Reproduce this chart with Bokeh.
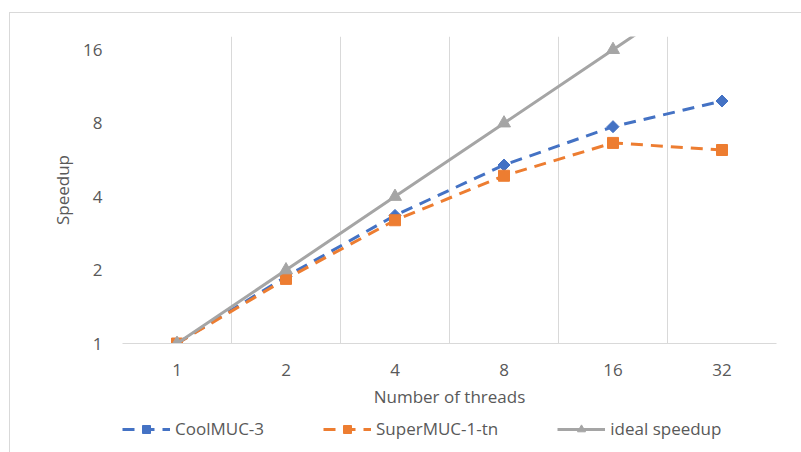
from bokeh.plotting import figure
from bokeh.models import Range1d, FixedTicker, Legend, LegendItem
from bokeh.layouts import column
from bokeh.embed import file_html
from bokeh.resources import INLINE
import math

# ---- data ----
threads = [1, 2, 4, 8, 16, 32]
coolmuc3 = [1.0, 1.88, 3.35, 5.39, 7.74, 9.86]
supermuc = [1.0, 1.84, 3.20, 4.87, 6.64, 6.21]
ideal = [1, 2, 4, 8, 16, 32]
y_ticks = [1, 2, 4, 8, 16]
series_names = ["CoolMUC-3", "SuperMUC-1-tn", "ideal speedup"]

FONT = "Open Sans"
TXT = "#595959"
GRID = "#d9d9d9"
BLUE = "#4472C4"
ORANGE = "#ED7D31"
GRAY = "#A5A5A5"

idx = list(range(len(threads)))
all_series = [coolmuc3, supermuc, ideal]

p = figure(width=792, height=399, output_backend="svg", toolbar_location=None,
           y_axis_type="log",
           x_range=Range1d(-0.5, len(threads) - 0.5),
           y_range=Range1d(1, 2 ** 4.18),
           min_border_left=112, min_border_right=26,
           min_border_top=23, min_border_bottom=69)
p.outline_line_color = None
p.background_fill_color = "white"
p.border_fill_color = "white"

# axes
xa = p.xaxis[0]
xa.ticker = FixedTicker(ticks=idx)
xa.major_label_overrides = {i: str(t) for i, t in zip(idx, threads)}
xa.axis_label = "Number of threads"
xa.axis_line_color = GRID
xa.axis_line_width = 1
xa.major_tick_line_color = None
xa.minor_tick_line_color = None
xa.major_label_standoff = 14
xa.axis_label_standoff = 6

ya = p.yaxis[0]
ya.ticker = FixedTicker(ticks=y_ticks)
ya.major_label_overrides = {t: str(t) for t in y_ticks}
ya.axis_label = "Speedup"
ya.axis_line_color = None
ya.major_tick_line_color = None
ya.minor_tick_line_color = None
ya.major_label_standoff = 14
ya.axis_label_standoff = 6

for ax in (xa, ya):
    ax.major_label_text_font = FONT
    ax.major_label_text_font_size = "17px"
    ax.major_label_text_color = TXT
    ax.axis_label_text_font = FONT
    ax.axis_label_text_font_size = "17px"
    ax.axis_label_text_color = TXT
    ax.axis_label_text_font_style = "normal"

# grid: vertical lines at category boundaries
p.xgrid.ticker = FixedTicker(ticks=[i - 0.5 for i in range(len(threads) + 1)])
p.xgrid.grid_line_color = GRID
p.xgrid.grid_line_width = 1
p.ygrid.visible = False

# series styles
styles = [
    dict(color=BLUE, dash="12 8", marker="square", angle=math.pi / 4, size=8.5),
    dict(color=ORANGE, dash="12 8", marker="square", angle=0.0, size=11),
    dict(color=GRAY, dash="solid", marker="triangle", angle=0.0, size=13),
]

for vals, st in zip(all_series, styles):
    p.line(idx, vals, line_color=st["color"], line_width=3, line_dash=st["dash"])
    p.scatter(idx, vals, marker=st["marker"], angle=st["angle"], size=st["size"],
              fill_color=st["color"], line_color=st["color"])

# ---- legend strip (separate figure below, frame aligned with main plot) ----
lg = figure(width=792, height=41, output_backend="svg", toolbar_location=None,
            x_range=Range1d(-10, -9), y_range=Range1d(-10, -9),
            x_axis_location=None, y_axis_location=None,
            min_border=0)
lg.outline_line_color = None
lg.xgrid.visible = False
lg.ygrid.visible = False

items = []
for name, vals, st in zip(series_names, all_series, styles):
    lr = lg.line(idx, vals, line_color=st["color"], line_width=3,
                 line_dash=st["dash"], visible=False)
    sr = lg.scatter(idx, vals, marker=st["marker"], angle=st["angle"],
                    size=st["size"], fill_color=st["color"],
                    line_color=st["color"], visible=False)
    items.append(LegendItem(label=name, renderers=[lr, sr]))

legend = Legend(items=items, orientation="horizontal", location=(0, 13))
legend.label_text_font = FONT
legend.label_text_font_size = "17px"
legend.label_text_color = TXT
legend.glyph_width = 48
legend.glyph_height = 20
legend.label_standoff = 5
legend.spacing = 59
legend.padding = 0
legend.margin = 0
legend.border_line_color = None
legend.background_fill_alpha = 0
legend.inactive_fill_alpha = 0
lg.add_layout(legend, "center")

layout = column(p, lg, spacing=0, margin=(12, 0, 0, 9))
layout.styles = {"border-left": "1px solid #d9d9d9", "border-top": "1px solid #d9d9d9"}

open("out.html", "w").write(file_html(layout, INLINE))
